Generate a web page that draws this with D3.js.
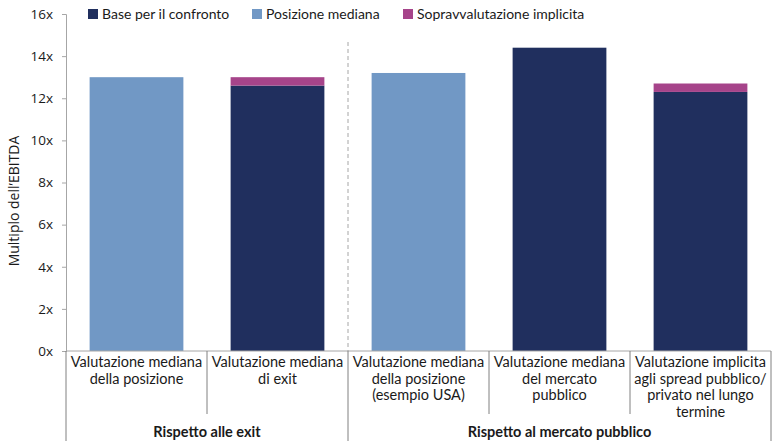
<!DOCTYPE html>
<html>
<head>
<meta charset="utf-8">
<script src="https://cdn.jsdelivr.net/npm/d3@7"></script>
<style>
  body { margin: 0; background: #fff; }
  svg text { fill: #1a1a1a; }
</style>
</head>
<body>
<div id="app"></div>
<script>
var categories = [
    ['Valutazione mediana', 'della posizione'],
    ['Valutazione mediana', 'di exit'],
    ['Valutazione mediana', 'della posizione', '(esempio USA)'],
    ['Valutazione mediana', 'del mercato', 'pubblico'],
    ['Valutazione implicita', 'agli spread pubblico/', 'privato nel lungo', 'termine']
];
var seriesNames = ['Base per il confronto', 'Posizione mediana', 'Sopravvalutazione implicita'];
var baseValues = [0, 12.6, 0, 14.4, 12.3];
var medianValues = [13.0, 0, 13.2, 0, 0];
var overValues = [0, 0.4, 0, 0, 0.4];
var groups = [
    { label: 'Rispetto alle exit', from: 0, to: 2 },
    { label: 'Rispetto al mercato pubblico', from: 2, to: 5 }
];
var yTicks = [0, 2, 4, 6, 8, 10, 12, 14, 16];
var colors = ['#202f5e', '#7198c5', '#a6448a'];

var width = 781,
    height = 441,
    plotLeft = 66,
    plotRight = 771,
    plotTop = 14,
    plotBottom = 351;

var svg = d3.select('#app')
    .append('svg')
    .attr('width', width)
    .attr('height', height);

var xScale = d3.scaleBand()
    .domain(d3.range(categories.length))
    .range([plotLeft, plotRight])
    .paddingInner(0.335)
    .paddingOuter(0.1675);

var yScale = d3.scaleLinear().domain([0, 16]).range([plotBottom, plotTop]);

// stacked bars
var rows = categories.map(function (c, i) {
    return { i: i, base: baseValues[i], median: medianValues[i], over: overValues[i] };
});
var stack = d3.stack().keys(['base', 'median', 'over'])(rows);

svg.append('g')
    .selectAll('g')
    .data(stack)
    .enter()
    .append('g')
    .attr('fill', function (d, k) { return colors[k]; })
    .selectAll('rect')
    .data(function (d) { return d.filter(function (s) { return s[1] - s[0] > 0; }); })
    .enter()
    .append('rect')
    .attr('x', function (d) { return xScale(d.data.i); })
    .attr('width', xScale.bandwidth())
    .attr('y', function (d) { return yScale(d[1]); })
    .attr('height', function (d) { return yScale(d[0]) - yScale(d[1]); });

// y axis
var yAxis = d3.axisLeft(yScale)
    .tickValues(yTicks)
    .tickSize(4)
    .tickPadding(9)
    .tickFormat(function (d) { return d + 'x'; });

var yg = svg.append('g')
    .attr('transform', 'translate(' + plotLeft + ',0)')
    .call(yAxis);
yg.select('.domain').attr('stroke', '#a6a6a6');
yg.selectAll('.tick line').attr('stroke', '#a6a6a6');
yg.selectAll('.tick text')
    .style('font-family', 'Open Sans')
    .style('font-size', '13.5px')
    .style('fill', '#1a1a1a');

svg.append('text')
    .attr('transform', 'translate(19,201) rotate(-90)')
    .attr('text-anchor', 'middle')
    .style('font-family', 'Open Sans')
    .style('font-size', '14px')
    .text('Multiplo dell\u2019EBITDA');

// category axis lines
var step = xScale.step();
svg.append('line')
    .attr('x1', plotLeft).attr('x2', plotRight)
    .attr('y1', plotBottom).attr('y2', plotBottom)
    .attr('stroke', '#a6a6a6');

var boundaries = d3.range(categories.length + 1).map(function (i) { return plotLeft + i * step; });
var groupEdges = [0, 2, 5];
svg.append('g')
    .selectAll('line')
    .data(boundaries)
    .enter()
    .append('line')
    .attr('x1', function (d) { return d; })
    .attr('x2', function (d) { return d; })
    .attr('y1', plotBottom)
    .attr('y2', function (d, i) { return groupEdges.indexOf(i) >= 0 ? height : 414; })
    .attr('stroke', '#808080');

// dashed separator between groups
svg.append('line')
    .attr('x1', plotLeft + 2 * step).attr('x2', plotLeft + 2 * step)
    .attr('y1', 42).attr('y2', plotBottom)
    .attr('stroke', '#a6a6a6')
    .attr('stroke-dasharray', '4,3');

// category labels
var catLabels = svg.append('g')
    .selectAll('text')
    .data(categories)
    .enter()
    .append('text')
    .attr('text-anchor', 'middle')
    .style('font-family', 'Lato')
    .style('font-size', '14.5px')
    .attr('x', function (d, i) { return xScale(i) + xScale.bandwidth() / 2; });
catLabels.selectAll('tspan')
    .data(function (d) { return d; })
    .enter()
    .append('tspan')
    .attr('x', function () { return this.parentNode.getAttribute('x'); })
    .attr('y', function (d, j) { return 367 + j * 16.5; })
    .text(function (d) { return d; });

// group labels
svg.append('g')
    .selectAll('text')
    .data(groups)
    .enter()
    .append('text')
    .attr('text-anchor', 'middle')
    .attr('x', function (d) { return (plotLeft + d.from * step + plotLeft + d.to * step) / 2; })
    .attr('y', 437)
    .style('font-family', 'Lato')
    .style('font-weight', 'bold')
    .style('font-size', '14.5px')
    .text(function (d) { return d.label; });

// legend
var legendX = [88, 252, 403];
var legend = svg.append('g')
    .selectAll('g')
    .data(seriesNames)
    .enter()
    .append('g')
    .attr('transform', function (d, i) { return 'translate(' + legendX[i] + ',7)'; });
legend.append('rect')
    .attr('width', 10)
    .attr('height', 10)
    .attr('y', 2)
    .attr('fill', function (d, i) { return colors[i]; });
legend.append('text')
    .attr('x', 14)
    .attr('y', 12)
    .style('font-family', 'Lato')
    .style('font-size', '14px')
    .text(function (d) { return d; });
</script>
</body>
</html>
